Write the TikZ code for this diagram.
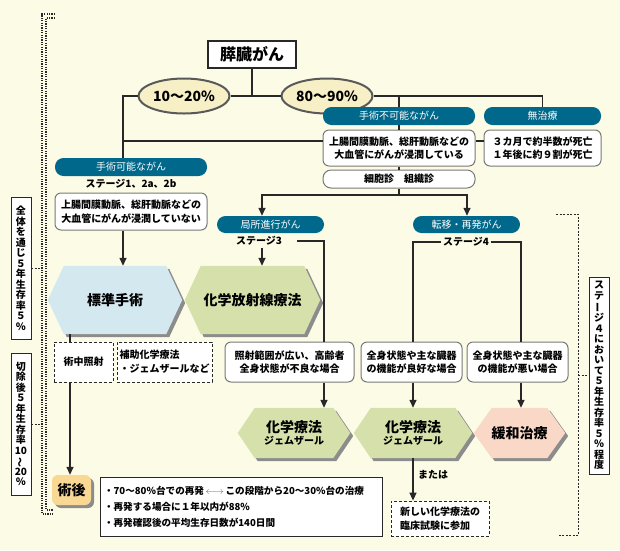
\documentclass[tikz,border=0pt]{standalone}
\usepackage{fontspec}
\setmainfont{Noto Sans CJK JP}
\usetikzlibrary{arrows.meta,calc,shapes.geometric}
\pgfdeclarelayer{bg}
\pgfsetlayers{bg,main}
\definecolor{cream}{RGB}{252,252,230}
\definecolor{bannerc}{RGB}{0,104,138}
\definecolor{ellc}{RGB}{247,240,198}
\definecolor{hexblue}{RGB}{212,232,240}
\definecolor{hexgreen}{RGB}{214,224,170}
\definecolor{hexpink}{RGB}{250,216,200}
\definecolor{jutsuc}{RGB}{248,216,146}
\definecolor{linec}{RGB}{40,40,40}
\definecolor{boxline}{RGB}{120,120,120}
\newcommand\hexfill[3]{%
 \begin{pgfonlayer}{bg}
 \fill[black!45] ($(#1.west)+(3,3)$) -- ($(#1.north west)+(#2+3,3)$) -- ($(#1.north east)+(3-#2,3)$) -- ($(#1.east)+(3,3)$) -- ($(#1.south east)+(3-#2,3)$) -- ($(#1.south west)+(#2+3,3)$) -- cycle;
 \fill[#3] (#1.west) -- ($(#1.north west)+(#2,0)$) -- ($(#1.north east)+(-#2,0)$) -- (#1.east) -- ($(#1.south east)+(-#2,0)$) -- ($(#1.south west)+(#2,0)$) -- cycle;
 \end{pgfonlayer}}
\newcommand\vrot[1]{\rotatebox[origin=c]{90}{#1}}
\tikzset{
 conn/.style={draw=linec, line width=1.4pt},
 arr/.style={conn, -{Triangle[length=8pt,width=7pt]}},
 banner/.style={fill=bannerc, text=white, rounded corners=8.5pt, inner sep=0pt, minimum height=18pt, font=\fontsize{10}{12}\selectfont},
 tbox/.style={draw=boxline, line width=1pt, fill=white, rounded corners=6pt, inner sep=0pt, align=center, font=\bfseries\fontsize{10}{13.5}\selectfont},
 dbox/.style={draw=linec, densely dashed, line width=0.8pt, fill=white, inner sep=0pt, align=left, font=\bfseries\fontsize{10}{14}\selectfont},
 ell/.style={ellipse, draw=black!65, line width=2pt, fill=ellc, minimum width=91pt, minimum height=35pt, inner sep=0pt, font=\bfseries\fontsize{14}{16}\selectfont},
 hexn/.style={inner sep=0pt, align=center},
 lbl/.style={inner sep=2pt, font=\bfseries\fontsize{10}{12}\selectfont},
 vlab/.style={draw=linec, line width=0.8pt, fill=white, inner sep=0pt, align=center, minimum width=20pt, font=\bfseries\fontsize{10}{10.5}\selectfont},
 dotline/.style={draw=linec, line width=1.2pt, dash pattern=on 1.2pt off 1.2pt},
 rdash/.style={draw=linec, line width=1pt, dash pattern=on 2pt off 1.5pt},
}
\begin{document}
\begin{tikzpicture}[x=1pt,y=-1pt]
\useasboundingbox (0,0) rectangle (620,550);
\begin{pgfonlayer}{bg}
\fill[cream] (0,0) rectangle (620,550);
\end{pgfonlayer}

% top
\node[draw=linec, line width=1.2pt, fill=white, minimum width=88pt, minimum height=27pt, inner sep=0pt, font=\bfseries\fontsize{16}{18}\selectfont] (title) at (252,54.5) {膵臓がん};
\node[ell] (e1) at (184,96) {10〜20\%};
\node[ell] (e2) at (327,96) {80〜90\%};
\coordinate (j0) at (252,96);
\draw[conn] (title.south) -- (j0);
\draw[conn] (e1.east) -- (e2.west);

% left branch
\coordinate (lc) at (123,96);
\coordinate (h1) at (123,141);
\node[banner, minimum width=152pt] (b1) at (131,167) {手術可能ながん};
\draw[conn] (e1.west) -- (lc) -- (lc |- b1.north);
\node[lbl] (s1) at (131,184) {ステージ1、2a、2b};
\node[tbox, minimum width=152pt, minimum height=37pt] (box1) at (131,211.5) {上腸間膜動脈、総肝動脈などの\\大血管にがんが浸潤していない};

% right branch
\node[banner, minimum width=152pt] (b2) at (399,116) {手術不可能ながん};
\node[banner, minimum width=117pt] (b3) at (542.5,116) {無治療};
\draw[conn] (e2.east) -| (b3.north);
\draw[conn] (e2.east -| b2.north) -- (b2.north);
\node[tbox, minimum width=152pt, minimum height=36pt] (box2) at (399,148) {上腸間膜動脈、総肝動脈などの\\大血管にがんが浸潤している};
\node[tbox, minimum width=117pt, minimum height=36pt] (box3) at (542.5,148) {３カ月で約半数が死亡\\１年後に約９割が死亡};
\draw[conn] (b2.south) -- (box2.north);
\draw[conn] (h1) -- (h1 -| box2.west);
\draw[conn] (h1 -| box2.east) -- (h1 -| box3.west);
\node[tbox, minimum width=152pt, minimum height=18pt, rounded corners=8pt] (box4) at (399,179) {細胞診　組織診};
\draw[conn] (box2.south) -- (box4.north);

\coordinate (h2) at (399,195);
\coordinate (c3) at (262,195);
\coordinate (c4) at (467,195);
\node[banner, minimum width=107pt, minimum height=17pt] (b4) at (270.5,224.5) {局所進行がん};
\node[banner, minimum width=107pt, minimum height=17pt] (b5) at (466.5,224.5) {転移・再発がん};
\draw[conn] (box4.south) -- (h2);
\draw[arr] (h2) -- (c3) -- (c3 |- b4.north);
\draw[arr] (h2) -- (c4) -- (c4 |- b5.north);

% hexagons row 2
\node[hexn, minimum width=134pt, minimum height=68pt, font=\bfseries\fontsize{14}{16}\selectfont] (std) at (115,300) {標準手術};
\node[hexn, minimum width=135pt, minimum height=68pt, font=\bfseries\fontsize{14}{16}\selectfont] (crt) at (252.5,300) {化学放射線療法};
\hexfill{std}{16}{hexblue}
\hexfill{crt}{16}{hexgreen}
\draw[arr] (lc |- box1.south) -- (lc |- std.north);

\node[lbl] (s3) at (259,241) {ステージ3};
\draw[arr] (s3.south -| c3) -- (c3 |- crt.north);

% row 3 boxes
\node[tbox, minimum width=129pt, minimum height=40pt] (box5) at (289.5,362) {照射範囲が広い、高齢者\\全身状態が不良な場合};
\node[tbox, minimum width=101pt, minimum height=40pt] (box6) at (411.5,362) {全身状態や主な臓器\\の機能が良好な場合};
\node[tbox, minimum width=101pt, minimum height=40pt] (box7) at (517.5,362) {全身状態や主な臓器\\の機能が悪い場合};
\coordinate (s3r) at (297,241);
\coordinate (c5) at (324,241);
\draw[conn] (s3r) -- (c5) -- (c5 |- box5.north);

\node[lbl] (s4) at (466,242) {ステージ4};
\coordinate (c6) at (413,242);
\coordinate (c7) at (521,242);
\draw[conn] (s4.west) -- (c6) -- (c6 |- box6.north);
\draw[conn] (s4.east) -- (c7) -- (c7 |- box7.north);

% hexagons row 3
\node[hexn, minimum width=112pt, minimum height=50pt] (hx1) at (294,433) {{\bfseries\fontsize{14}{17}\selectfont 化学療法}\\{\bfseries\fontsize{10}{12}\selectfont ジェムザール}};
\node[hexn, minimum width=118pt, minimum height=50pt] (hx2) at (413,433) {{\bfseries\fontsize{14}{17}\selectfont 化学療法}\\{\bfseries\fontsize{10}{12}\selectfont ジェムザール}};
\node[hexn, minimum width=91pt, minimum height=50pt, font=\bfseries\fontsize{14}{16}\selectfont] (hx3) at (519.5,433) {緩和治療};
\hexfill{hx1}{17}{hexgreen}
\hexfill{hx2}{17}{hexgreen}
\hexfill{hx3}{18}{hexpink}
\draw[arr] (c5 |- box5.south) -- (c5 |- hx1.north);
\draw[arr] (c6 |- box6.south) -- (c6 |- hx2.north);
\draw[arr] (c7 |- box7.south) -- (c7 |- hx3.north);

\node[dbox, minimum width=98pt, minimum height=35pt] (d3) at (440,518.5) {新しい化学療法の\\臨床試験に参加};
\draw[arr] (hx2.south) -- (hx2.south |- d3.north);
\node[lbl, anchor=west] (mt) at (416,475) {または};

% left lower
\node[dbox, minimum width=59pt, minimum height=40pt, align=center] (d1) at (83.5,362) {術中照射};
\node[dbox, minimum width=95pt, minimum height=40pt] (d2) at (164.5,362) {補助化学療法\\・ジェムザールなど};
\coordinate (c8) at (70,334);
\draw[conn] (c8 |- std.south) -- (c8 |- d1.north);
\node[draw=none, fill=black!45, rounded corners=6pt, minimum width=39pt, minimum height=30pt] (jgs) at (74.5,493) {};
\node[fill=jutsuc, rounded corners=6pt, minimum width=39pt, minimum height=30pt, inner sep=0pt, font=\bfseries\fontsize{14}{16}\selectfont] (jg) at (71.5,490) {術後};
\draw[arr] (c8 |- d1.south) -- (c8 |- jg.north);

\node[draw=linec, line width=0.8pt, fill=white, text width=274pt, inner xsep=4pt, inner ysep=0pt, minimum height=59pt, align=left, font=\bfseries\fontsize{9.6}{16}\selectfont] (bl) at (241,506.5) {・70〜80\%台での再発\,{\color{black!60}$\longleftrightarrow$}\,この段階から20〜30\%台の治療\\・再発する場合に１年以内が88\%\\・再発確認後の平均生存日数が140日間};

% side labels
\node[vlab, minimum height=142pt] (v1) at (21,268) {全\\体\\を\\通\\じ\\５\\年\\生\\存\\率\\５\\％};
\node[vlab, minimum height=142pt] (v2) at (21,424) {切\\除\\後\\５\\年\\生\\存\\率\\10\\\vrot{〜}\\20\\％};
\node[vlab, minimum height=197pt] (v3) at (599,375.5) {ス\\テ\\\vrot{ー}\\ジ\\４\\に\\お\\い\\て\\５\\年\\生\\存\\率\\５\\％\\程\\度};

\draw[dotline] (55,14) -- (42,14) -- (42,514) -- (53,514);
\draw[dotline] (55,18) -- (46,18) -- (46,510) -- (53,510);
\coordinate (k1) at (42,268);
\coordinate (k2) at (42,424);
\draw[rdash] (v1.east) -- (k1);
\draw[rdash] (v2.east) -- (k2);

\draw[rdash] (556,214) -- (578,214) -- (578,535) -- (558,535);
\coordinate (k3) at (578,375.5);
\draw[rdash] (k3) -- (v3.west);
\end{tikzpicture}
\end{document}
